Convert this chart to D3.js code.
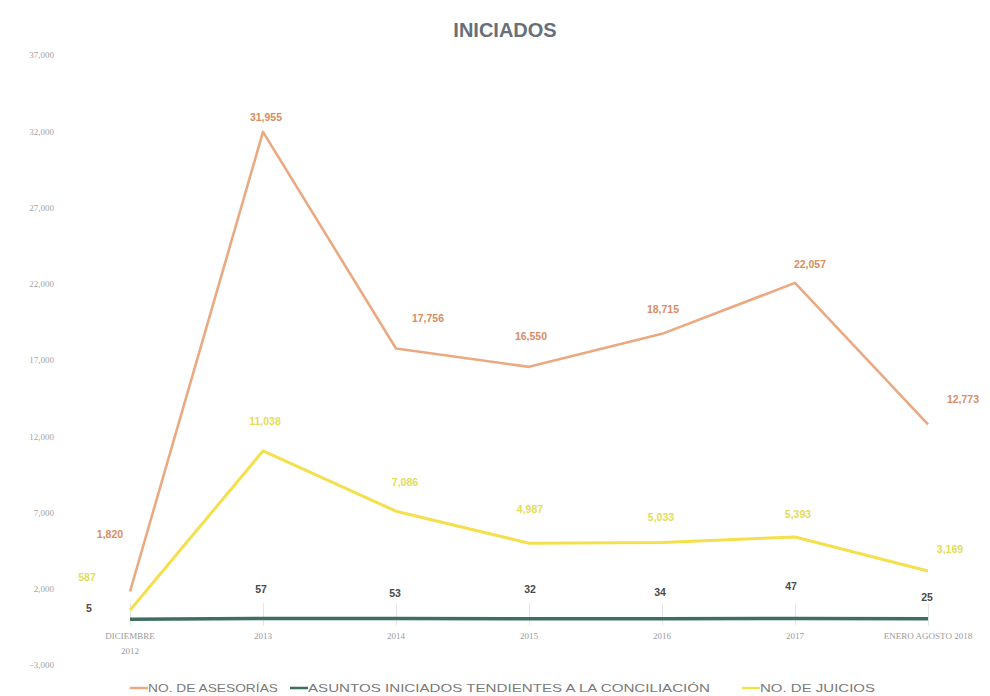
<!DOCTYPE html>
<html>
<head>
<meta charset="utf-8">
<script src="https://cdn.jsdelivr.net/npm/d3@7"></script>
<style>
  html, body { margin: 0; padding: 0; background: #ffffff; }
  svg { display: block; font-family: "Liberation Sans", Arial, sans-serif; }
</style>
</head>
<body>
<svg id="chart" width="990" height="696"></svg>
<script>
// ---- data ----
const categories = ["DICIEMBRE 2012", "2013", "2014", "2015", "2016", "2017", "ENERO AGOSTO 2018"];
const asesorias = [1820, 31955, 17756, 16550, 18715, 22057, 12773];
const conciliacion = [5, 57, 53, 32, 34, 47, 25];
const juicios = [587, 11038, 7086, 4987, 5033, 5393, 3169];
const yTicks = [-3000, 2000, 7000, 12000, 17000, 22000, 27000, 32000, 37000];
const seriesNames = ["NO. DE ASESORÍAS", "ASUNTOS INICIADOS TENDIENTES A LA CONCILIACIÓN", "NO. DE JUICIOS"];
const title = "INICIADOS";

// ---- label placement (offsets from point) ----
const asesoriasLabelOffsets = [[-20,-56],[3,-14],[32,-29],[2,-30],[1,-24],[15,-18],[35,-24]];
const juiciosLabelOffsets = [[-43,-32],[2,-29],[9,-28],[1,-33],[-1,-24],[3,-22],[22,-21]];
const conciliacionLabelOffsets = [[-41,-10],[-2,-28],[-1,-24],[1,-29],[-2,-26],[-4,-31],[-1,-21]];

const svg = d3.select("#chart");
const fmt = d3.format(",");

const x = d3.scalePoint().domain(categories).range([130, 928]);
const y = d3.scaleLinear().domain([-3000, 37000]).range([665, 55]);

// title
svg.append("text").attr("x", 505).attr("y", 37).attr("text-anchor", "middle")
  .attr("font-size", 20).attr("font-weight", "bold").attr("fill", "#66707c").text(title);

// y axis labels
const yAxis = d3.axisLeft(y).tickValues(yTicks).tickSize(0).tickPadding(0).tickFormat(fmt);
const gy = svg.append("g").attr("transform", "translate(54,0)").call(yAxis);
gy.select(".domain").remove();
gy.selectAll("text").attr("font-size", 9).attr("fill", "#a3a3a3")
  .attr("font-family", "Liberation Serif, serif");

// x axis at zero
const xAxis = d3.axisBottom(x).tickSize(7).tickPadding(6).tickFormat(() => "");
const gx = svg.append("g").attr("transform", `translate(0,${y(0)})`).call(xAxis);
gx.select(".domain").remove();
gx.selectAll("line").attr("stroke", "#dfe6e3").attr("stroke-width", 1).attr("y1", -16).attr("y2", 6);

// x labels
const xl = svg.append("g");
categories.forEach(c => {
  const t = xl.append("text").attr("x", x(c)).attr("y", 639).attr("text-anchor", "middle")
    .attr("font-size", 9).attr("fill", "#9a9a9a").attr("font-family", "Liberation Serif, serif");
  if (c === "DICIEMBRE 2012") {
    t.append("tspan").attr("x", x(c)).text("DICIEMBRE");
    t.append("tspan").attr("x", x(c)).attr("dy", 15).text("2012");
  } else {
    t.text(c);
  }
});

const line = d3.line().x((d, i) => x(categories[i])).y(d => y(d));

function drawSeries(values, color, width, labelColor, offsets, weight) {
  svg.append("path").datum(values).attr("d", line).attr("fill", "none")
    .attr("stroke", color).attr("stroke-width", width).attr("stroke-linejoin", "round");
  svg.append("g").selectAll("text").data(values).join("text")
    .attr("x", (d, i) => x(categories[i]) + offsets[i][0])
    .attr("y", (d, i) => y(d) + offsets[i][1])
    .attr("dominant-baseline", "middle").attr("text-anchor", "middle")
    .attr("font-size", 10.5).attr("font-weight", weight).attr("fill", labelColor)
    .text(d => fmt(d));
}

drawSeries(asesorias, "#eba982", 2.6, "#d98d62", asesoriasLabelOffsets, "bold");
drawSeries(juicios, "#f3e04c", 3, "#e3dc56", juiciosLabelOffsets, "bold");
drawSeries(conciliacion, "#3f6d62", 3.5, "#4a4a4a", conciliacionLabelOffsets, "bold");

// legend
const legendColors = ["#eba982", "#3f6d62", "#f3e04c"];
const legendX = [130, 290, 742];
const legendTextLen = [130, 402, 115];
const lg = svg.append("g");
seriesNames.forEach((n, i) => {
  lg.append("line").attr("x1", legendX[i]).attr("x2", legendX[i] + 18)
    .attr("y1", 688).attr("y2", 688).attr("stroke", legendColors[i]).attr("stroke-width", 2.5);
  lg.append("text").attr("x", legendX[i] + 18).attr("y", 692).attr("font-size", 11.5)
    .attr("textLength", legendTextLen[i]).attr("lengthAdjust", "spacingAndGlyphs")
    .attr("fill", "#7a7a7a").text(n);
});
</script>
</body>
</html>
